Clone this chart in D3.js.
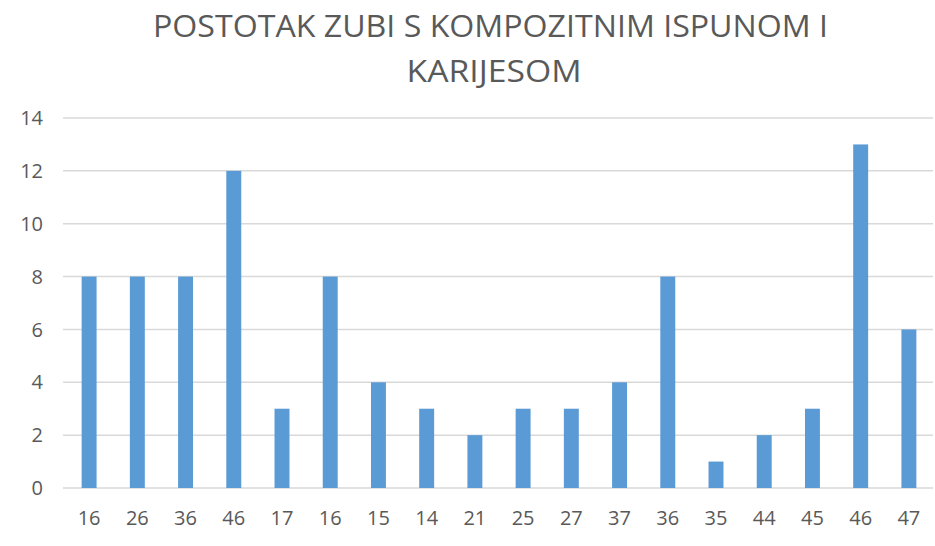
<!DOCTYPE html>
<html>
<head>
<meta charset="utf-8">
<script src="https://cdn.jsdelivr.net/npm/d3@7"></script>
<style>
  body { margin: 0; background: #fff; }
  text { font-family: "Open Sans", sans-serif; fill: #595959; }
</style>
</head>
<body>
<svg id="chart"></svg>
<script>
var width = 935,
    height = 546;

// teeth (x categories, some repeat) and their values
var teeth = ["16", "26", "36", "46", "17", "16", "15", "14", "21", "25", "27", "37", "36", "35", "44", "45", "46", "47"];
var values = [8, 8, 8, 12, 3, 8, 4, 3, 2, 3, 3, 4, 8, 1, 2, 3, 13, 6];
var yTicks = [0, 2, 4, 6, 8, 10, 12, 14];
var titleLines = ["POSTOTAK ZUBI S KOMPOZITNIM ISPUNOM I", "KARIJESOM"];

var margin = {left: 65, right: 2, top: 118, bottom: 58};

var svg = d3.select("#chart")
    .attr("width", width)
    .attr("height", height);

// band scale on index since tooth numbers repeat
var x = d3.scaleBand()
    .domain(d3.range(teeth.length))
    .range([margin.left, width - margin.right])
    .paddingInner(0.69)
    .paddingOuter(0.345);

var y = d3.scaleLinear()
    .domain([0, 14])
    .range([height - margin.bottom, margin.top]);

// gridlines
svg.append("g")
    .selectAll("line")
    .data(yTicks)
    .enter().append("line")
        .attr("x1", margin.left - 2)
        .attr("x2", width - margin.right)
        .attr("y1", function(d) { return y(d); })
        .attr("y2", function(d) { return y(d); })
        .attr("stroke", "#d9d9d9")
        .attr("stroke-width", 1.5);

// y labels
svg.append("g")
    .selectAll("text")
    .data(yTicks)
    .enter().append("text")
        .attr("x", 43)
        .attr("y", function(d) { return y(d); })
        .attr("dy", "0.36em")
        .attr("text-anchor", "end")
        .style("font-size", "20px")
        .text(function(d) { return d; });

// bars
svg.append("g")
    .selectAll("rect")
    .data(values)
    .enter().append("rect")
        .attr("x", function(d, i) { return x(i); })
        .attr("width", x.bandwidth())
        .attr("y", function(d) { return y(d); })
        .attr("height", function(d) { return y(0) - y(d); })
        .attr("fill", "#5b9bd5");

// x labels
svg.append("g")
    .selectAll("text")
    .data(teeth)
    .enter().append("text")
        .attr("x", function(d, i) { return x(i) + x.bandwidth() / 2; })
        .attr("y", 518)
        .attr("dy", "0.36em")
        .attr("text-anchor", "middle")
        .style("font-size", "20px")
        .text(function(d) { return d; });

// title, squeezed to match the narrow original face
var titleLen = [675, 175];
var titleY = [37, 82];
svg.append("g")
    .selectAll("text")
    .data(titleLines)
    .enter().append("text")
        .attr("x", function(d, i) { return i == 0 ? 490.5 : 494; })
        .attr("y", function(d, i) { return titleY[i]; })
        .attr("text-anchor", "middle")
        .attr("textLength", function(d, i) { return titleLen[i]; })
        .attr("lengthAdjust", "spacingAndGlyphs")
        .style("font-size", "31px")
        .text(function(d) { return d; });
</script>
</body>
</html>
